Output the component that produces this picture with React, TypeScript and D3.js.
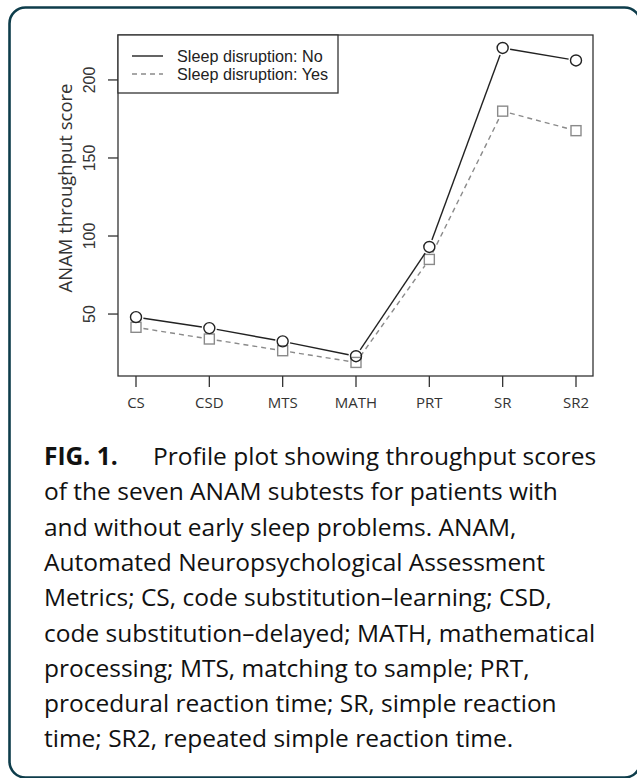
import React from "react";
import * as d3 from "d3";

const categories = ["CS", "CSD", "MTS", "MATH", "PRT", "SR", "SR2"];
const noDisruption = [48, 41, 32.5, 23, 93, 220.5, 212.5];
const yesDisruption = [41.5, 34, 26.5, 19, 85, 180, 167.5];
const yTicks = [50, 100, 150, 200];
const legendLabels = ["Sleep disruption: No", "Sleep disruption: Yes"];
const captionLines = [
  "of the seven ANAM subtests for patients with",
  "and without early sleep problems. ANAM,",
  "Automated Neuropsychological Assessment",
  "Metrics; CS, code substitution\u2013learning; CSD,",
  "code substitution\u2013delayed; MATH, mathematical",
  "processing; MTS, matching to sample; PRT,",
  "procedural reaction time; SR, simple reaction",
  "time; SR2, repeated simple reaction time.",
];

const W = 637;
const H = 778;
const plot = { left: 118, right: 593, top: 35, bottom: 376 };

const x = d3.scalePoint<string>().domain(categories).range([136, 576]);
const y = d3.scaleLinear().domain([10.3, 228.8]).range([plot.bottom, plot.top]);

function gappedSegments(vals: number[], gap: number) {
  const segs: [number, number, number, number][] = [];
  for (let i = 0; i < vals.length - 1; i++) {
    const x1 = x(categories[i])!;
    const y1 = y(vals[i]);
    const x2 = x(categories[i + 1])!;
    const y2 = y(vals[i + 1]);
    const dx = x2 - x1;
    const dy = y2 - y1;
    const len = Math.hypot(dx, dy);
    if (len <= 2 * gap) continue;
    const ux = dx / len;
    const uy = dy / len;
    segs.push([x1 + ux * gap, y1 + uy * gap, x2 - ux * gap, y2 - uy * gap]);
  }
  return segs;
}

export default function App() {
  const gray = "#8a8a8a";
  const dark = "#222";
  const segNo = gappedSegments(noDisruption, 7.5);
  const segYes = gappedSegments(yesDisruption, 7.5);
  const lineGen = d3.line<number[]>().x((d) => d[0]).y((d) => d[1]);
  const humanist = "'Open Sans', 'Noto Sans', sans-serif";
  const helv = "'Liberation Sans', Arial, sans-serif";
  return (
    <svg width={W} height={H} style={{ position: "absolute", left: 0, top: 0 }}>
      <rect x={0} y={0} width={W} height={H} fill="#fff" />
      <rect x={9.5} y={7.5} width={631} height={770} rx={16} ry={16} fill="none" stroke="#0e3d4b" strokeWidth={2.6} />

      {/* plot frame */}
      <rect x={plot.left} y={plot.top} width={plot.right - plot.left} height={plot.bottom - plot.top} fill="none" stroke="#333" strokeWidth={1.3} />

      {/* y axis ticks */}
      {yTicks.map((t) => (
        <g key={t}>
          <line x1={108} x2={plot.left} y1={y(t)} y2={y(t)} stroke="#333" strokeWidth={1.3} />
          <text
            transform={`translate(95,${y(t)}) rotate(-90)`}
            textAnchor="middle"
            fontFamily={helv}
            fontSize={16}
            fill="#333"
          >
            {t}
          </text>
        </g>
      ))}
      <text
        transform={`translate(72,188) rotate(-90)`}
        textAnchor="middle"
        fontFamily={humanist}
        fontSize={18.5}
        fill="#333"
      >
        ANAM throughput score
      </text>

      {/* x axis ticks */}
      {categories.map((c) => (
        <g key={c}>
          <line x1={x(c)!} x2={x(c)!} y1={plot.bottom} y2={387} stroke="#333" strokeWidth={1.3} />
          <text x={x(c)!} y={408} textAnchor="middle" fontFamily={humanist} fontSize={15} fill="#333">
            {c}
          </text>
        </g>
      ))}

      {/* Yes series */}
      {segYes.map((s, i) => (
        <path key={"ys" + i} d={lineGen([[s[0], s[1]], [s[2], s[3]]])!} stroke={gray} strokeWidth={1.4} strokeDasharray="5,4" fill="none" />
      ))}
      {yesDisruption.map((v, i) => (
        <rect key={"yp" + i} x={x(categories[i])! - 5} y={y(v) - 5} width={10} height={10} fill="none" stroke={gray} strokeWidth={1.4} />
      ))}

      {/* No series */}
      {segNo.map((s, i) => (
        <path key={"ns" + i} d={lineGen([[s[0], s[1]], [s[2], s[3]]])!} stroke={dark} strokeWidth={1.4} fill="none" />
      ))}
      {noDisruption.map((v, i) => (
        <circle key={"np" + i} cx={x(categories[i])!} cy={y(v)} r={5.5} fill="none" stroke={dark} strokeWidth={1.4} />
      ))}

      {/* legend */}
      <rect x={plot.left} y={plot.top} width={220} height={58} fill="#fff" stroke="#333" strokeWidth={1.3} />
      <line x1={132} x2={163} y1={56} y2={56} stroke={dark} strokeWidth={1.4} />
      <line x1={132} x2={163} y1={74} y2={74} stroke={gray} strokeWidth={1.4} strokeDasharray="5,4" />
      <text x={177} y={62} fontFamily={helv} fontSize={16.2} fill="#222">{legendLabels[0]}</text>
      <text x={177} y={80} fontFamily={helv} fontSize={16.2} fill="#222">{legendLabels[1]}</text>

      {/* caption */}
      <text x={44} y={465} fontFamily={humanist} fontSize={24.5} fill="#111">
        <tspan fontWeight="bold">FIG. 1.</tspan>
        <tspan x={153}>Profile plot showing throughput scores</tspan>
      </text>
      {captionLines.map((l, i) => (
        <text key={i} x={44} y={500.3 + i * 35.3} fontFamily={humanist} fontSize={24.5} fill="#111">
          {l}
        </text>
      ))}
    </svg>
  );
}
